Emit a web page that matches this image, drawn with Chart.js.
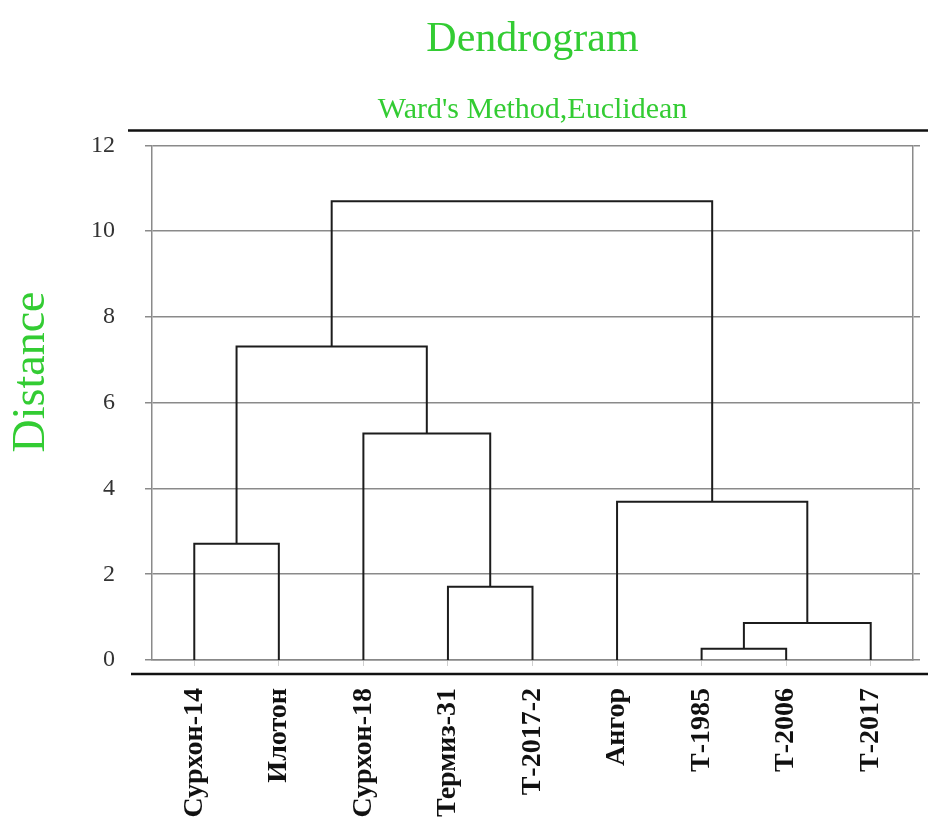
<!DOCTYPE html>
<html>
<head>
<meta charset="utf-8">
<script src="https://cdn.jsdelivr.net/npm/chart.js@4.4.0/dist/chart.umd.min.js"></script>
<style>
  body{margin:0;background:#fff;}
  .containSec{width:928px;height:824px;}
</style>
</head>
<body>
<div class="containSec"><canvas id="dendro" width="928" height="824"></canvas></div>
<script>
// leaves in plot order
const leafLabels=['Сурхон-14','Илотон','Сурхон-18','Термиз-31','Т-2017-2','Ангор','Т-1985','Т-2006','Т-2017'];
// merges: node ids < 9 are leaves, 9.. are the clusters made by earlier merges
const mergeLeft=[6,9,3,0,5,2,12,15];
const mergeRight=[7,8,4,1,10,11,14,13];
const mergeHeight=[0.26,0.86,1.71,2.71,3.69,5.28,7.31,10.70];
const yTicks=[0,2,4,6,8,10,12];

const green='#33cc33';
const serif='"Liberation Serif", "DejaVu Serif", serif';

const buildLinks=()=>{
    const nodeX=leafLabels.map((item,i)=>i+1);
    const nodeY=leafLabels.map(()=>0);
    const sets=[];
    mergeHeight.forEach((h,i)=>{
        const a=mergeLeft[i],b=mergeRight[i];
        sets.push({
            data:[{x:nodeX[a],y:nodeY[a]},{x:nodeX[a],y:h},{x:nodeX[b],y:h},{x:nodeX[b],y:nodeY[b]}],
            showLine:true,
            borderColor:'#1c1c1c',
            borderWidth:2,
            pointRadius:0,
            fill:false
        });
        nodeX.push((nodeX[a]+nodeX[b])/2);
        nodeY.push(h);
    });
    return sets;
}

const framePlugin={
    id:'frame',
    afterDraw(chart){
        const {ctx,chartArea}=chart;
        ctx.save();
        ctx.strokeStyle='#111';
        ctx.lineWidth=2.5;
        ctx.beginPath();
        ctx.moveTo(128,chartArea.top-15);
        ctx.lineTo(928,chartArea.top-15);
        ctx.moveTo(131,chartArea.bottom+14);
        ctx.lineTo(928,chartArea.bottom+14);
        ctx.stroke();
        ctx.translate(32,372);
        ctx.rotate(-Math.PI/2);
        ctx.fillStyle=green;
        ctx.font='46px '+serif;
        ctx.textAlign='center';
        ctx.textBaseline='middle';
        ctx.fillText('Distance',0,0);
        ctx.restore();
    }
};

const ctx=document.getElementById('dendro').getContext('2d');
new Chart(ctx,{
    type:'scatter',
    data:{datasets:buildLinks()},
    plugins:[framePlugin],
    options:{
        responsive:false,
        animation:false,
        layout:{padding:{left:0,right:0,top:0,bottom:0}},
        plugins:{
            legend:{display:false},
            tooltip:{enabled:false},
            title:{
                display:true,
                text:'Dendrogram',
                fullSize:false,
                color:green,
                font:{family:serif,size:42,weight:'normal'},
                padding:{top:15,bottom:27}
            },
            subtitle:{
                display:true,
                text:"Ward's Method,Euclidean",
                fullSize:false,
                color:green,
                font:{family:serif,size:30,weight:'normal'},
                padding:{top:0,bottom:17}
            }
        },
        scales:{
            x:{
                type:'linear',
                min:0.5,
                max:9.5,
                afterBuildTicks:(scale)=>{
                    scale.ticks=leafLabels.map((item,i)=>({value:i+1}));
                },
                afterFit:(scale)=>{scale.height=164;},
                grid:{drawOnChartArea:false,color:'#cfcfcf',tickLength:6},
                border:{color:'#888',width:1.5},
                ticks:{
                    autoSkip:false,
                    maxRotation:90,
                    minRotation:90,
                    padding:22,
                    color:'#111',
                    font:{family:serif,size:28,weight:'bold'},
                    callback:(v)=>leafLabels[v-1]
                }
            },
            y:{
                min:0,
                max:12,
                afterBuildTicks:(scale)=>{
                    scale.ticks=yTicks.map(v=>({value:v}));
                },
                afterFit:(scale)=>{scale.width=152;},
                grid:{color:'#8a8a8a',lineWidth:1.5,tickLength:7},
                border:{color:'#8a8a8a',width:1.5},
                ticks:{
                    padding:30,
                    color:'#333',
                    font:{family:serif,size:24}
                }
            },
            y2:{
                position:'right',
                min:0,
                max:12,
                afterBuildTicks:(scale)=>{
                    scale.ticks=yTicks.map(v=>({value:v}));
                },
                afterFit:(scale)=>{scale.width=15;},
                grid:{drawOnChartArea:false,color:'#8a8a8a',lineWidth:1.5,tickLength:7},
                border:{color:'#8a8a8a',width:1.5},
                ticks:{display:false}
            }
        }
    }
});
</script>
</body>
</html>
